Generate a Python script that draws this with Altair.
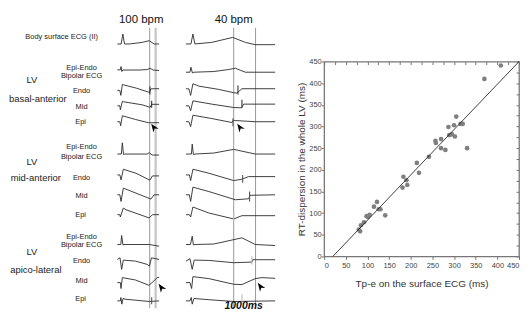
import altair as alt
import pandas as pd

# ---------------- scatter data ----------------
tpe_ms = [80, 83, 85, 92, 98, 101, 105, 115, 122, 126, 130, 141, 181, 183, 190, 192,
          214, 219, 242, 257, 258, 270, 270, 280, 287, 289, 295, 300, 302, 315, 320,
          330, 305, 370, 408]
rt_disp_ms = [62, 58, 72, 79, 93, 91, 96, 115, 126, 109, 109, 95, 159, 184, 176, 165,
              216, 193, 230, 267, 262, 271, 250, 246, 299, 280, 282, 303, 277, 306, 306,
              250, 323, 410, 441]
fit_x = [20, 450]
fit_y = [0, 450]
axis_ticks = [0, 50, 100, 150, 200, 250, 300, 350, 400, 450]
minor_ticks = list(range(0, 451, 25))

# ---------------- ECG traces (time ms from beat start, amplitude a.u.) ----------------
beats = ["100 bpm", "40 bpm"]
beat_start_ms = {"100 bpm": 1100, "40 bpm": 1790}
rows = ["body", "b_bip", "b_endo", "b_mid", "b_epi", "m_bip", "m_endo", "m_mid", "m_epi",
        "a_bip", "a_endo", "a_mid", "a_epi"]
row_base = [43.3, 70, 89, 105.5, 121.5, 154, 175, 195, 215, 245, 261.7, 283.3, 301.7]

trace_100 = {
    "body":   [(0, 0), (38, 0), (55, 10), (72, 0), (120, 0), (250, 1.6), (320, 3.3), (370, 0), (420, 0)],
    "b_bip":  [(0, 0.7), (30, 0.7), (37, 4), (45, -1), (55, 0.5), (220, 0.5), (300, 1), (330, 2.3), (360, 0.5), (420, 0)],
    "b_endo": [(0, -1), (25, -1), (35, -6), (50, 5), (65, 4.5), (190, 1.3), (313, -2.7), (325, -3), (335, 0.5), (370, 0.7), (420, 0.7)],
    "b_mid":  [(0, 0), (25, 0), (30, -4), (50, 4.5), (65, 4), (250, 1), (330, -1.5), (345, 1.5), (420, 1.5)],
    "b_epi":  [(0, 0), (25, 0), (33, -4), (50, 6), (185, 2.2), (313, -1), (420, -1)],
    "m_bip":  [(0, 0), (40, 0), (50, 11.3), (62, -0.5), (75, 0), (300, 0), (320, 1.3), (350, -1), (420, -1)],
    "m_endo": [(0, 0), (25, 0), (37, -5), (60, 5.7), (187, 1.7), (320, -5), (327, -5.3), (353, -1), (420, -1)],
    "m_mid":  [(0, 0), (25, 0), (37, -6.7), (60, 6.7), (187, 1.7), (337, -4.3), (370, 0), (420, 0)],
    "m_epi":  [(0, 0), (25, 0), (30, -2.3), (60, 6.7), (87, 5), (320, -3.3), (353, 0), (420, 0)],
    "a_bip":  [(0, 0), (35, 0), (43, 9), (57, -0.5), (67, 0), (320, 0), (420, -1.7)],
    "a_endo": [(0, 1.7), (27, 3.3), (43, -8.3), (60, 1), (183, 0), (300, -3.3), (323, -5), (343, 3.3), (420, 1.7)],
    "a_mid":  [(0, 0), (30, 0), (37, -6), (50, 5), (183, 2.6), (317, -2.7), (367, 1.6), (400, 5), (420, 5.3)],
    "a_epi":  [(0, 0), (30, 0), (35, 3.4), (45, -3.3), (57, 2.4), (77, 1.7), (320, -0.6), (420, 0)],
}
trace_40 = {
    "body":   [(0, 0), (50, 0), (70, 10), (90, 0), (260, 1.6), (470, 6.6), (597, 1.6), (697, -0.7), (897, -0.7)],
    "b_bip":  [(0, -1.7), (40, -1.7), (50, 3.3), (65, -2.5), (80, -1.7), (280, -1), (430, 1), (497, 2.3), (597, -1.7), (897, -1.7)],
    "b_endo": [(0, 0.7), (30, 0.5), (47, -6), (70, 5.7), (130, 3.3), (330, 0), (480, -3.3), (513, -3.7), (563, 0.7), (897, 0.7)],
    "b_mid":  [(0, 0), (30, 0), (47, -5), (70, 5), (260, 1.7), (480, -1.7), (560, -2), (580, 1.7), (897, 1.7)],
    "b_epi":  [(0, 0), (30, 0), (47, -5), (70, 6.5), (260, 3.2), (463, -0.8), (475, 1.5), (497, 1.2), (697, 0), (897, 0)],
    "m_bip":  [(0, 0), (55, 0), (63, 10), (75, -0.5), (90, 0), (280, 1), (480, 4.7), (697, 0), (897, 0)],
    "m_endo": [(0, 0), (35, 0), (47, -5.7), (70, 5.7), (230, 1.7), (480, -5.7), (563, -4.3), (630, -1.7), (897, -1.7)],
    "m_mid":  [(0, 0), (35, 0), (47, -6.7), (70, 7.7), (230, 3.3), (497, -5), (630, -4), (645, -0.5), (897, 0)],
    "m_epi":  [(0, 0), (35, 0), (47, -2.3), (70, 7.7), (230, 1.7), (480, -4.3), (563, -1), (897, -1)],
    "a_bip":  [(0, 0), (45, 0), (63, 8.3), (75, -0.5), (90, 0), (280, 0.5), (563, 6.7), (697, 0), (897, -1)],
    "a_endo": [(0, 0), (40, 2.4), (63, -8.3), (83, 1), (230, 0.7), (480, -1.6), (663, -1), (670, 1.4), (897, 1.4)],
    "a_mid":  [(0, 0), (40, 0), (57, -6), (70, 6), (230, 4), (480, -1.7), (563, -2), (697, 4), (763, 5), (897, 4.3)],
    "a_epi":  [(0, 0), (40, 0), (53, 3.4), (63, -3.3), (80, 2.4), (230, 1.2), (480, -0.6), (897, 0)],
}
# recovery-time markers: (beat, row, t_ms, amp_top, amp_bottom, colour)
rt_markers = [
    ("40 bpm", "b_endo", 523, 4, -5, "#333333"),
    ("40 bpm", "b_mid", 563, 6, -2, "#333333"),
    ("40 bpm", "b_epi", 473, 3.5, -4.5, "#555555"),
    ("100 bpm", "b_endo", 327, 3, -5, "#333333"),
    ("100 bpm", "b_mid", 345, 5, -2, "#333333"),
    ("40 bpm", "m_endo", 570, 0, -8, "#555555"),
    ("40 bpm", "m_mid", 640, 3.3, -6.7, "#555555"),
    ("40 bpm", "m_epi", 480, 3, -6, "#bbbbbb"),
    ("40 bpm", "a_endo", 663, 5, -3.3, "#bbbbbb"),
    ("40 bpm", "a_epi", 563, 6.7, -3.3, "#bbbbbb"),
    ("100 bpm", "a_epi", 345, 3.7, -3.3, "#555555"),
]
# vertical reference lines: (beat, t_ms, colour, width)
ref_lines = [("100 bpm", 325, "#999999", 1.0), ("100 bpm", 385, "#c4c4c4", 2.2),
             ("40 bpm", 480, "#999999", 1.0), ("40 bpm", 700, "#999999", 1.0)]
# arrowheads: (beat, row, t_ms, amp)
arrows = [("100 bpm", "b_epi", 365, -5.5), ("40 bpm", "b_epi", 540, -5.5),
          ("100 bpm", "a_mid", 440, -4.7), ("40 bpm", "a_mid", 747, -3.7)]

# ---------------- build left-panel tables ----------------
base = dict(zip(rows, row_base))
recs = []
for beat, tr in (("100 bpm", trace_100), ("40 bpm", trace_40)):
    for r, pts in tr.items():
        for i, (t, a) in enumerate(pts):
            recs.append({"trace": beat + r, "i": i, "x": beat_start_ms[beat] + t, "y": base[r] - a})
df_tr = pd.DataFrame(recs)

df_mk = pd.DataFrame([{"x": beat_start_ms[b] + t, "y": base[r] - hi, "y2": base[r] - lo, "c": c}
                      for b, r, t, hi, lo, c in rt_markers])
df_ln = pd.DataFrame([{"x": beat_start_ms[b] + t, "y": 27, "y2": 309, "c": c, "w": w}
                      for b, t, c, w in ref_lines])
df_ar = pd.DataFrame([{"x": beat_start_ms[b] + t, "y": base[r] - a} for b, r, t, a in arrows])

small_labels = ["Body surface ECG (II)", "Epi-Endo", "Bipolar ECG", "Endo", "Mid", "Epi",
                "Epi-Endo", "Bipolar ECG", "Endo", "Mid", "Epi",
                "Epi-Endo", "Bipolar ECG", "Endo", "Mid", "Epi"]
small_x = [540, 740, 740, 740, 740, 730, 740, 740, 740, 740, 730, 740, 740, 740, 740, 730]
small_y = [36, 67.5, 76, 91, 107, 122, 147, 157, 178, 196, 215, 237.5, 246, 262, 282, 300]
region_labels = ["LV", "basal-anterior", "LV", "mid-anterior", "LV", "apico-lateral"]
region_x = [240, 300, 240, 280, 240, 280]
region_y = [80, 99, 162, 178, 253, 271]
head_labels = ["100 bpm", "40 bpm"]
head_x = [1340, 2270]
head_y = [19, 19]

df_small = pd.DataFrame({"t": small_labels, "x": small_x, "y": small_y})
df_region = pd.DataFrame({"t": region_labels, "x": region_x, "y": region_y})
df_head = pd.DataFrame({"t": head_labels, "x": head_x, "y": head_y})
df_scale = pd.DataFrame({"t": ["1000ms"], "x": [2370], "y": [312]})

X = alt.X("x:Q", scale=alt.Scale(domain=[0, 2720], nice=False, zero=False), axis=None)
Y = alt.Y("y:Q", scale=alt.Scale(domain=[8, 312], reverse=True, nice=False, zero=False), axis=None)

lines_layer = alt.Chart(df_ln).mark_rule().encode(
    x=X, y=Y, y2="y2:Q", color=alt.Color("c:N", scale=None), strokeWidth=alt.StrokeWidth("w:Q", scale=None))
trace_layer = alt.Chart(df_tr).mark_line(color="#2a2a2a", strokeWidth=0.9).encode(
    x=X, y=Y, detail="trace:N", order="i:Q")
marker_layer = alt.Chart(df_mk).mark_rule(strokeWidth=1.1).encode(
    x=X, y=Y, y2="y2:Q", color=alt.Color("c:N", scale=None))
arrow_layer = alt.Chart(df_ar).mark_point(
    shape="M0,-1L0.75,1L0,0.4L-0.75,1Z", filled=True, color="#000000", opacity=1, size=75, angle=325,
    strokeWidth=0).encode(x=X, y=Y)
txt_small = alt.Chart(df_small).mark_text(fontSize=7.5, color="#222222", align="center", baseline="middle").encode(
    x=X, y=Y, text="t:N")
txt_region = alt.Chart(df_region).mark_text(fontSize=9.5, color="#222222", align="center", baseline="middle").encode(
    x=X, y=Y, text="t:N")
txt_head = alt.Chart(df_head).mark_text(fontSize=11.5, color="#111111", align="center", baseline="middle").encode(
    x=X, y=Y, text="t:N")
txt_scale = alt.Chart(df_scale).mark_text(fontSize=10.5, fontWeight="bold", fontStyle="italic", color="#111111",
                                          align="center", baseline="bottom").encode(x=X, y=Y, text="t:N")

left = alt.layer(lines_layer, trace_layer, marker_layer, arrow_layer, txt_small, txt_region, txt_head,
                 txt_scale).properties(width=272, height=304)

# ---------------- scatter ----------------
df_sc = pd.DataFrame({"tpe": tpe_ms, "rt": rt_disp_ms})
df_fit = pd.DataFrame({"tpe": fit_x, "rt": fit_y})
xs = alt.Scale(domain=[0, 450], nice=False, zero=False)
ys = alt.Scale(domain=[0, 450], nice=False, zero=False)
ax_b = alt.Axis(values=axis_ticks, title="Tp-e on the surface ECG (ms)", tickSize=3, tickColor="#777777",
                domain=False, grid=False, labelFontSize=7.5, labelColor="#444444", labelPadding=2,
                titleFontSize=10, titleFontWeight="normal", titleColor="#333333", titlePadding=10)
ax_l = alt.Axis(values=axis_ticks, title="RT-dispersion in the whole LV (ms)", tickSize=3, tickColor="#777777",
                domain=False, grid=False, labelFontSize=7.5, labelColor="#444444", labelPadding=0,
                titleFontSize=10, titleFontWeight="normal", titleColor="#333333", titlePadding=2)
ax_t = alt.Axis(values=minor_ticks, orient="top", labels=False, title=None, tickSize=3, tickColor="#777777",
                domain=False, grid=False, offset=-3)
ax_r = alt.Axis(values=minor_ticks, orient="right", labels=False, title=None, tickSize=3, tickColor="#777777",
                domain=False, grid=False, offset=-3)

pts = alt.Chart(df_sc).mark_circle(size=22, color="#7f7f7f", opacity=1).encode(
    x=alt.X("tpe:Q", scale=xs, axis=ax_b), y=alt.Y("rt:Q", scale=ys, axis=ax_l))
fit = alt.Chart(df_fit).mark_line(color="#111111", strokeWidth=0.8).encode(
    x=alt.X("tpe:Q", scale=xs, axis=ax_t), y=alt.Y("rt:Q", scale=ys, axis=ax_r))
scatter = alt.layer(pts, fit).resolve_axis(x="independent", y="independent").properties(
    width=196, height=196, view=alt.ViewBackground(stroke="#777777", strokeWidth=1.3))

spacer = alt.Chart(pd.DataFrame({"v": [0]})).mark_point(opacity=0).encode(
    x=alt.X("v:Q", axis=None), y=alt.Y("v:Q", axis=None)).properties(width=196, height=48)

right = alt.vconcat(spacer, scatter, spacing=0)

chart = alt.hconcat(left, right, spacing=17).properties(padding=0).configure(
    font="Liberation Sans").configure_view(strokeWidth=0)

chart.save("out.html", embed_options={"renderer": "svg", "actions": False})
